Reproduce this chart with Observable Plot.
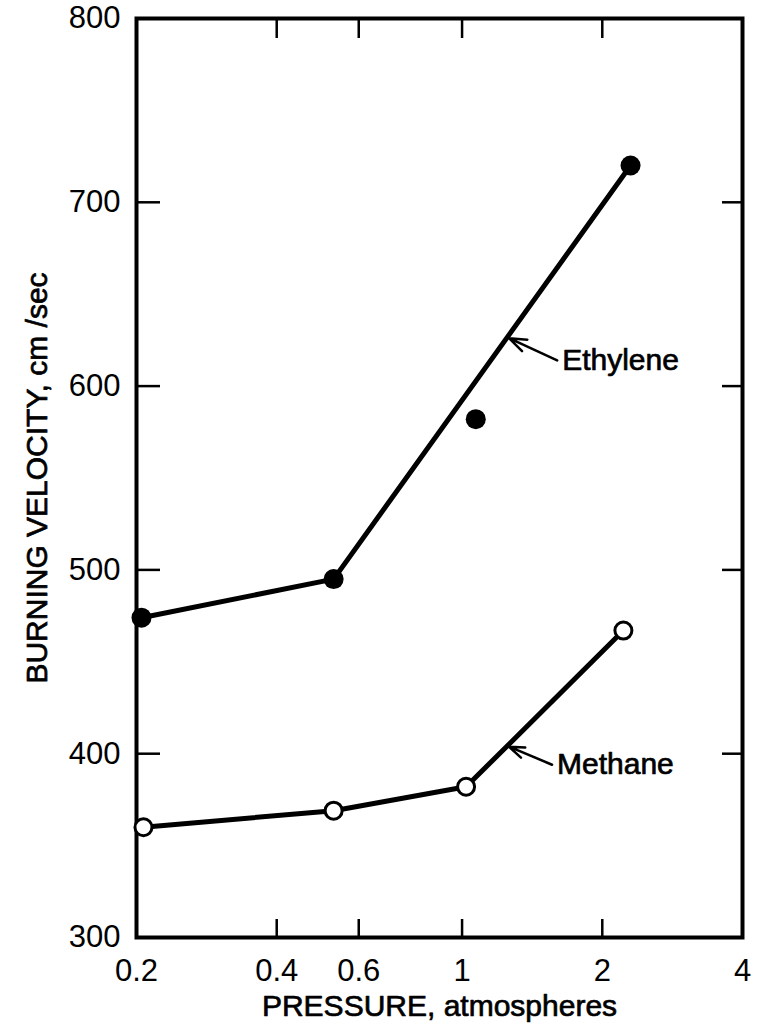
<!DOCTYPE html>
<html>
<head>
<meta charset="utf-8">
<script src="https://cdn.jsdelivr.net/npm/d3@7"></script>
<script src="https://cdn.jsdelivr.net/npm/@observablehq/plot@0.6"></script>
<style>
  html, body { margin: 0; padding: 0; background: #fff; }
  #chart { width: 760px; height: 1032px; }
</style>
</head>
<body>
<div id="chart"></div>
<script>
// ---- data ----
const xTickLabels = [0.2, 0.4, 0.6, 1, 2, 4];
const xInnerTicks = [0.4, 0.6, 1, 2];
const yTickLabels = [300, 400, 500, 600, 700, 800];
const yInnerTicks = [400, 500, 600, 700];

const ethylenePressure = [0.205, 0.53, 1.07, 2.3];
const ethyleneVelocity = [474, 495, 582, 720];
const ethyleneCurvePressure = [0.205, 0.53, 2.3];
const ethyleneCurveVelocity = [474, 495, 720];

const methanePressure = [0.207, 0.53, 1.02, 2.22];
const methaneVelocity = [360, 369, 382, 467];

const seriesLabels = ["Ethylene", "Methane"];
const labelPressure = [1.6, 1.56];
const labelVelocity = [614, 394];
const arrowTipPressure = [1.25, 1.25];

const xTitle = "PRESSURE, atmospheres";
const yTitle = "BURNING VELOCITY, cm /sec";

// ---- build tables ----
const ethylenePts = ethylenePressure.map((p, i) => ({p, v: ethyleneVelocity[i]}));
const ethyleneCurve = ethyleneCurvePressure.map((p, i) => ({p, v: ethyleneCurveVelocity[i]}));
const methanePts = methanePressure.map((p, i) => ({p, v: methaneVelocity[i]}));

function onCurve(curve, p) {
  for (let i = 0; i < curve.length - 1; i++) {
    const a = curve[i], b = curve[i + 1];
    if (p >= a.p && p <= b.p) {
      const t = (Math.log(p) - Math.log(a.p)) / (Math.log(b.p) - Math.log(a.p));
      return a.v + t * (b.v - a.v);
    }
  }
  return curve[curve.length - 1].v;
}
const curves = [ethyleneCurve, methanePts];
const annots = seriesLabels.map((label, i) => ({
  label,
  tx: labelPressure[i],
  ty: labelVelocity[i],
  ax: arrowTipPressure[i],
  ay: onCurve(curves[i], arrowTipPressure[i])
}));

// ---- layout ----
const W = 760, H = 1032;
const mL = 136, mR = 18, mT = 18, mB = 95;
const plotW = W - mL - mR, plotH = H - mT - mB;
const font = "'Liberation Sans', Arial, Helvetica, sans-serif";
const thick = {stroke: "#000", strokeWidth: 0.7};

const chart = Plot.plot({
  width: W,
  height: H,
  marginLeft: mL,
  marginRight: mR,
  marginTop: mT,
  marginBottom: mB,
  x: {type: "log", domain: [0.2, 4]},
  y: {type: "linear", domain: [300, 800]},
  style: {fontFamily: font, fontSize: "31px", color: "#000", background: "#fff", overflow: "visible"},
  marks: [
    Plot.frame({stroke: "#000", strokeWidth: 4}),
    // inward ticks
    Plot.tickX(xInnerTicks, {x: d => d, insetTop: plotH - 18, stroke: "#000", strokeWidth: 2.5}),
    Plot.tickX(xInnerTicks, {x: d => d, insetBottom: plotH - 20, stroke: "#000", strokeWidth: 2.5}),
    Plot.tickY(yInnerTicks, {y: d => d, insetRight: plotW - 24, stroke: "#000", strokeWidth: 2.5}),
    Plot.tickY(yInnerTicks, {y: d => d, insetLeft: plotW - 20, stroke: "#000", strokeWidth: 2.5}),
    // tick labels
    Plot.axisX(xTickLabels, {anchor: "bottom", tickSize: 0, tickPadding: 21, fontSize: 31, tickFormat: d => String(d), label: null, fill: "#000", ...thick}),
    Plot.axisY(yTickLabels, {anchor: "left", tickSize: 0, tickPadding: 16, fontSize: 31, tickFormat: d => String(d), label: null, fill: "#000", ...thick}),
    // titles
    Plot.text([xTitle], {text: d => d, frameAnchor: "bottom", textAnchor: "middle", lineAnchor: "middle", dy: 69, fontSize: 30, fill: "#000", ...thick}),
    Plot.text([yTitle], {text: d => d, frameAnchor: "left", textAnchor: "middle", lineAnchor: "middle", rotate: -90, dx: -99, fontSize: 30, fill: "#000", ...thick}),
    // curves
    Plot.line(ethyleneCurve, {x: "p", y: "v", stroke: "#000", strokeWidth: 5}),
    Plot.line(methanePts, {x: "p", y: "v", stroke: "#000", strokeWidth: 5}),
    // points
    Plot.dot(ethylenePts, {x: "p", y: "v", r: 10, fill: "#000", stroke: "none"}),
    Plot.dot(methanePts, {x: "p", y: "v", r: 8.5, fill: "#fff", stroke: "#000", strokeWidth: 3}),
    // annotations
    Plot.arrow(annots, {x1: "tx", y1: "ty", x2: "ax", y2: "ay", stroke: "#000", strokeWidth: 2.5, headLength: 14, headAngle: 40, insetEnd: 2}),
    Plot.text(annots, {x: "tx", y: "ty", text: "label", textAnchor: "start", dx: 5, fontSize: 30, fill: "#000", ...thick})
  ]
});

document.getElementById("chart").appendChild(chart);
</script>
</body>
</html>
